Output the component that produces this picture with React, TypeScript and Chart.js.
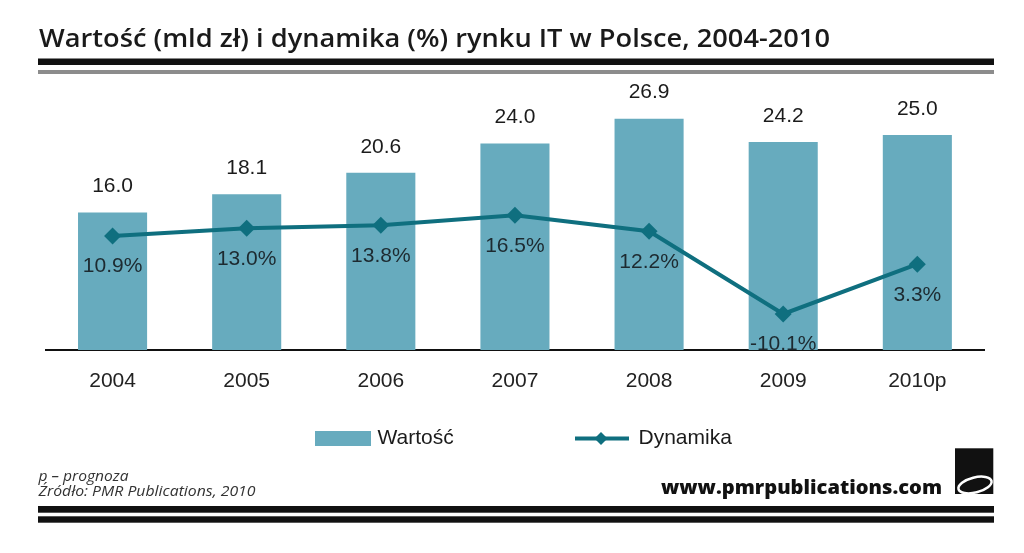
import React, { useEffect, useRef } from "react";
import { Chart, registerables } from "chart.js";

Chart.register(...registerables);

// ---- data ----
const categories = ["2004", "2005", "2006", "2007", "2008", "2009", "2010p"];
const marketValue = [16.0, 18.1, 20.6, 24.0, 26.9, 24.2, 25.0]; // mld zł
const growth = [10.9, 13.0, 13.8, 16.5, 12.2, -10.1, 3.3]; // %
const seriesNames = ["Wartość", "Dynamika"];

const titleText = "Wartość (mld zł) i dynamika (%) rynku IT w Polsce, 2004-2010";
const noteText = "p – prognoza";
const sourceText = "Źródło: PMR Publications, 2010";
const siteText = "www.pmrpublications.com";

// ---- styles ----
const BAR_COLOR = "#67abbe";
const LINE_COLOR = "#0f6f7f";
const ARIAL = "'Liberation Sans', Arial, sans-serif";

const labelsAndLegend = {
  id: "labelsAndLegend",
  afterDatasetsDraw(chart: any) {
    const ctx = chart.ctx;
    ctx.save();
    ctx.font = `21px ${ARIAL}`;
    ctx.textAlign = "center";
    ctx.textBaseline = "middle";
    const barMeta = chart.getDatasetMeta(0);
    barMeta.data.forEach((el: any, i: number) => {
      ctx.fillStyle = "#1b1b1b";
      ctx.fillText(marketValue[i].toFixed(1), el.x, el.y - 26);
    });
    const lineMeta = chart.getDatasetMeta(1);
    lineMeta.data.forEach((el: any, i: number) => {
      ctx.fillStyle = "#1d2a30";
      ctx.fillText(growth[i].toFixed(1) + "%", el.x, el.y + 30.5);
    });
    ctx.restore();
  },
  afterDraw(chart: any) {
    const ctx = chart.ctx;
    ctx.save();
    const cy = 438.5;
    // bar legend
    ctx.fillStyle = chart.data.datasets[0].backgroundColor;
    ctx.fillRect(315, 431, 56, 15);
    ctx.font = `21px ${ARIAL}`;
    ctx.textBaseline = "middle";
    ctx.textAlign = "left";
    ctx.fillStyle = "#1b1b1b";
    ctx.fillText(chart.data.datasets[0].label, 377.5, cy);
    // line legend
    const lc = chart.data.datasets[1].borderColor;
    ctx.strokeStyle = lc;
    ctx.lineWidth = 4;
    ctx.beginPath();
    ctx.moveTo(575, cy);
    ctx.lineTo(629, cy);
    ctx.stroke();
    ctx.fillStyle = lc;
    ctx.beginPath();
    ctx.moveTo(601 - 6.5, cy);
    ctx.lineTo(601, cy - 6.5);
    ctx.lineTo(601 + 6.5, cy);
    ctx.lineTo(601, cy + 6.5);
    ctx.closePath();
    ctx.fill();
    ctx.fillStyle = "#1b1b1b";
    ctx.fillText(chart.data.datasets[1].label, 638.5, cy);
    ctx.restore();
  },
};

function ChartCanvas() {
  const ref = useRef<HTMLCanvasElement | null>(null);
  useEffect(() => {
    if (!ref.current) return;
    const chart = new Chart(ref.current, {
      type: "bar",
      data: {
        labels: categories,
        datasets: [
          {
            type: "bar",
            label: seriesNames[0],
            data: marketValue,
            backgroundColor: BAR_COLOR,
            borderWidth: 0,
            barPercentage: 0.515,
            categoryPercentage: 1,
            yAxisID: "y",
            order: 2,
          },
          {
            type: "line",
            label: seriesNames[1],
            data: growth,
            borderColor: LINE_COLOR,
            backgroundColor: LINE_COLOR,
            borderWidth: 4,
            pointStyle: "rectRot",
            pointRadius: 8.5,
            pointBorderWidth: 0,
            pointBackgroundColor: LINE_COLOR,
            tension: 0,
            yAxisID: "y2",
            order: 1,
          },
        ] as any,
      },
      options: {
        animation: false,
        responsive: false,
        devicePixelRatio: 1,
        layout: { padding: { left: 45.5, right: 39.6, top: 92, bottom: 143 } },
        plugins: { legend: { display: false }, tooltip: { enabled: false } },
        scales: {
          x: {
            offset: true,
            grid: { display: true, drawOnChartArea: false, drawTicks: false },
            border: { display: true, color: "#111111", width: 2 },
            ticks: { padding: 19, color: "#222222", font: { family: ARIAL, size: 21 } },
            afterFit: (s: any) => {
              s.height = 60;
            },
          },
          y: { display: false, min: 0, max: 30 },
          y2: { display: false, min: -19.8, max: 49.7 },
        },
      } as any,
      plugins: [labelsAndLegend],
    });
    return () => chart.destroy();
  }, []);
  return (
    <canvas
      ref={ref}
      width={1024}
      height={553}
      style={{ position: "absolute", left: 0, top: 0, width: 1024, height: 553 }}
    />
  );
}

export default function App() {
  return (
    <div
      style={{
        position: "fixed",
        left: 0,
        top: 0,
        width: 1024,
        height: 553,
        overflow: "hidden",
        background: "#ffffff",
      }}
    >
      <ChartCanvas />
      <svg
        width={1024}
        height={553}
        style={{ position: "absolute", left: 0, top: 0, pointerEvents: "none" }}
      >
        <text
          x={39}
          y={46.7}
          fontFamily="'Open Sans', sans-serif"
          fontWeight={600}
          fontSize={25}
          fill="#1a1a1a"
          textLength={791}
          lengthAdjust="spacingAndGlyphs"
        >
          {titleText}
        </text>
        <rect x={38} y={58.5} width={956} height={6.5} fill="#111111" />
        <rect x={38} y={70} width={956} height={4} fill="#8c8c8c" />

        <text
          x={38.5}
          y={480.5}
          fontFamily="'Open Sans', sans-serif"
          fontStyle="italic"
          fontSize={15}
          fill="#333333"
          textLength={90}
          lengthAdjust="spacingAndGlyphs"
        >
          {noteText}
        </text>
        <text
          x={38.5}
          y={496}
          fontFamily="'Open Sans', sans-serif"
          fontStyle="italic"
          fontSize={15}
          fill="#333333"
          textLength={217}
          lengthAdjust="spacingAndGlyphs"
        >
          {sourceText}
        </text>
        <text
          x={661}
          y={494}
          fontFamily="'Open Sans', sans-serif"
          fontWeight={800}
          fontSize={19}
          fill="#111111"
          textLength={281}
          lengthAdjust="spacingAndGlyphs"
        >
          {siteText}
        </text>
        <rect x={955} y={448.3} width={38.3} height={45.7} fill="#111111" />
        <ellipse
          cx={975}
          cy={485}
          rx={17}
          ry={7.5}
          transform="rotate(-14 975 485)"
          fill="#111111"
          stroke="#ffffff"
          strokeWidth={2.5}
        />
        <rect x={38} y={506} width={956} height={6.7} fill="#111111" />
        <rect x={38} y={516.3} width={956} height={6.4} fill="#111111" />
      </svg>
    </div>
  );
}
